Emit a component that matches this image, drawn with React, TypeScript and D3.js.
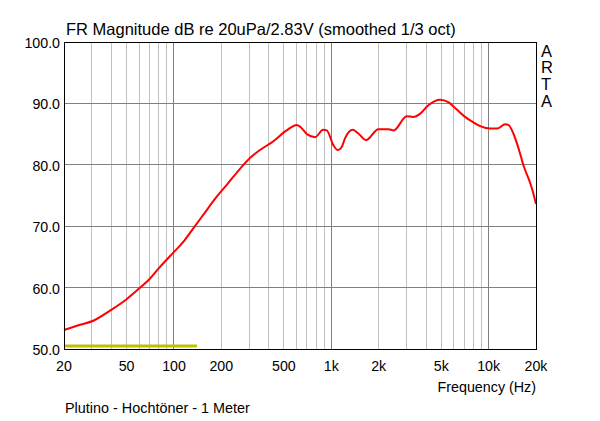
import React from "react";
import * as d3 from "d3";

const freqs = [20, 25, 30.7, 39, 50, 61, 70, 81, 99, 115, 133, 153, 187, 216, 262, 304, 352, 426, 520, 602, 634, 700, 789, 888, 936, 1030, 1100, 1165, 1222, 1370, 1486, 1662, 1992, 2310, 2490, 3012, 3320, 3660, 4140, 4900, 5540, 6270, 7080, 8000, 8840, 10240, 11300, 12740, 13350, 14360, 15480, 16700, 18380, 18970, 20000];
const levels = [53.1, 53.9, 54.6, 56.2, 58.1, 60.0, 61.4, 63.3, 65.7, 67.5, 69.7, 71.8, 74.8, 76.7, 79.3, 81.1, 82.4, 83.8, 85.6, 86.5, 86.2, 85.0, 84.5, 85.7, 85.6, 83.2, 82.4, 82.9, 84.3, 85.7, 85.1, 84.0, 85.8, 85.8, 85.6, 87.9, 87.8, 88.3, 89.7, 90.6, 90.2, 89.0, 87.8, 86.9, 86.3, 85.9, 85.9, 86.6, 86.5, 85.1, 82.7, 79.8, 77.0, 75.9, 73.6];

const refFreqs = [20, 140];
const refLevels = [50.5, 50.5];

const xTickValues = [20, 50, 100, 200, 500, 1000, 2000, 5000, 10000, 20000];
const xTickLabels = ["20", "50", "100", "200", "500", "1k", "2k", "5k", "10k", "20k"];
const yTickValues = [50, 60, 70, 80, 90, 100];
const majorFreqs = [100, 1000, 10000];

const title = "FR Magnitude dB re 20uPa/2.83V (smoothed 1/3 oct)";
const xLabel = "Frequency (Hz)";
const footer = "Plutino - Hochtöner - 1 Meter";
const brand = ["A", "R", "T", "A"];

const W = 600, H = 421;
const L = 64, R = 536, T = 42, B = 349;
const font = "'Liberation Sans', Arial, sans-serif";

export default function App() {
  const x = d3.scaleLog().domain([20, 20000]).range([L, R]);
  const y = d3.scaleLinear().domain([50, 100]).range([B, T]);

  const minor: number[] = [];
  [10, 100, 1000, 10000].forEach((dec) => {
    for (let k = 1; k <= 9; k++) {
      const f = dec * k;
      if (f > 20 && f < 20000 && !majorFreqs.includes(f)) minor.push(f);
    }
  });

  const line = d3
    .line<number>()
    .x((_, i) => x(freqs[i]))
    .y((d) => y(d))
    .curve(d3.curveMonotoneX);

  const refLine = d3
    .line<number>()
    .x((_, i) => x(refFreqs[i]))
    .y((d) => y(d));

  return (
    <svg width={W} height={H} style={{ position: "absolute", left: 0, top: 0, background: "#fff" }} fontFamily={font}>
      <rect x={0} y={0} width={W} height={H} fill="#fff" />
      {minor.map((f) => (
        <line key={"m" + f} x1={x(f)} x2={x(f)} y1={T} y2={B} stroke="#c0c0c0" strokeWidth={1} shapeRendering="crispEdges" />
      ))}
      {majorFreqs.map((f) => (
        <line key={"M" + f} x1={x(f)} x2={x(f)} y1={T} y2={B} stroke="#808080" strokeWidth={1} shapeRendering="crispEdges" />
      ))}
      {yTickValues.map((v) => (
        <line key={"h" + v} x1={L} x2={R} y1={y(v)} y2={y(v)} stroke="#808080" strokeWidth={1} shapeRendering="crispEdges" />
      ))}
      <path d={refLine(refLevels) || ""} fill="none" stroke="#c0c000" strokeWidth={3} />
      <path d={line(levels) || ""} fill="none" stroke="#ff0000" strokeWidth={2} />
      <rect x={L} y={T} width={R - L} height={B - T} fill="none" stroke="#000" strokeWidth={1} shapeRendering="crispEdges" />
      <text x={66} y={35} fontSize={16.5} fill="#000">{title}</text>
      {yTickValues.map((v) => (
        <text key={"yt" + v} x={60} y={y(v) + 6} fontSize={14.2} textAnchor="end" fill="#000">
          {v.toFixed(1)}
        </text>
      ))}
      {xTickValues.map((v, i) => (
        <text key={"xt" + v} x={x(v)} y={371} fontSize={14.2} textAnchor="middle" fill="#000">
          {xTickLabels[i]}
        </text>
      ))}
      <text x={R} y={392} fontSize={14.3} textAnchor="end" fill="#000">{xLabel}</text>
      <text x={65} y={413} fontSize={14.4} fill="#000">{footer}</text>
      {brand.map((c, i) => (
        <text key={"b" + i} x={541} y={56.5 + i * 16.7} fontSize={16.5} fill="#000">{c}</text>
      ))}
    </svg>
  );
}
